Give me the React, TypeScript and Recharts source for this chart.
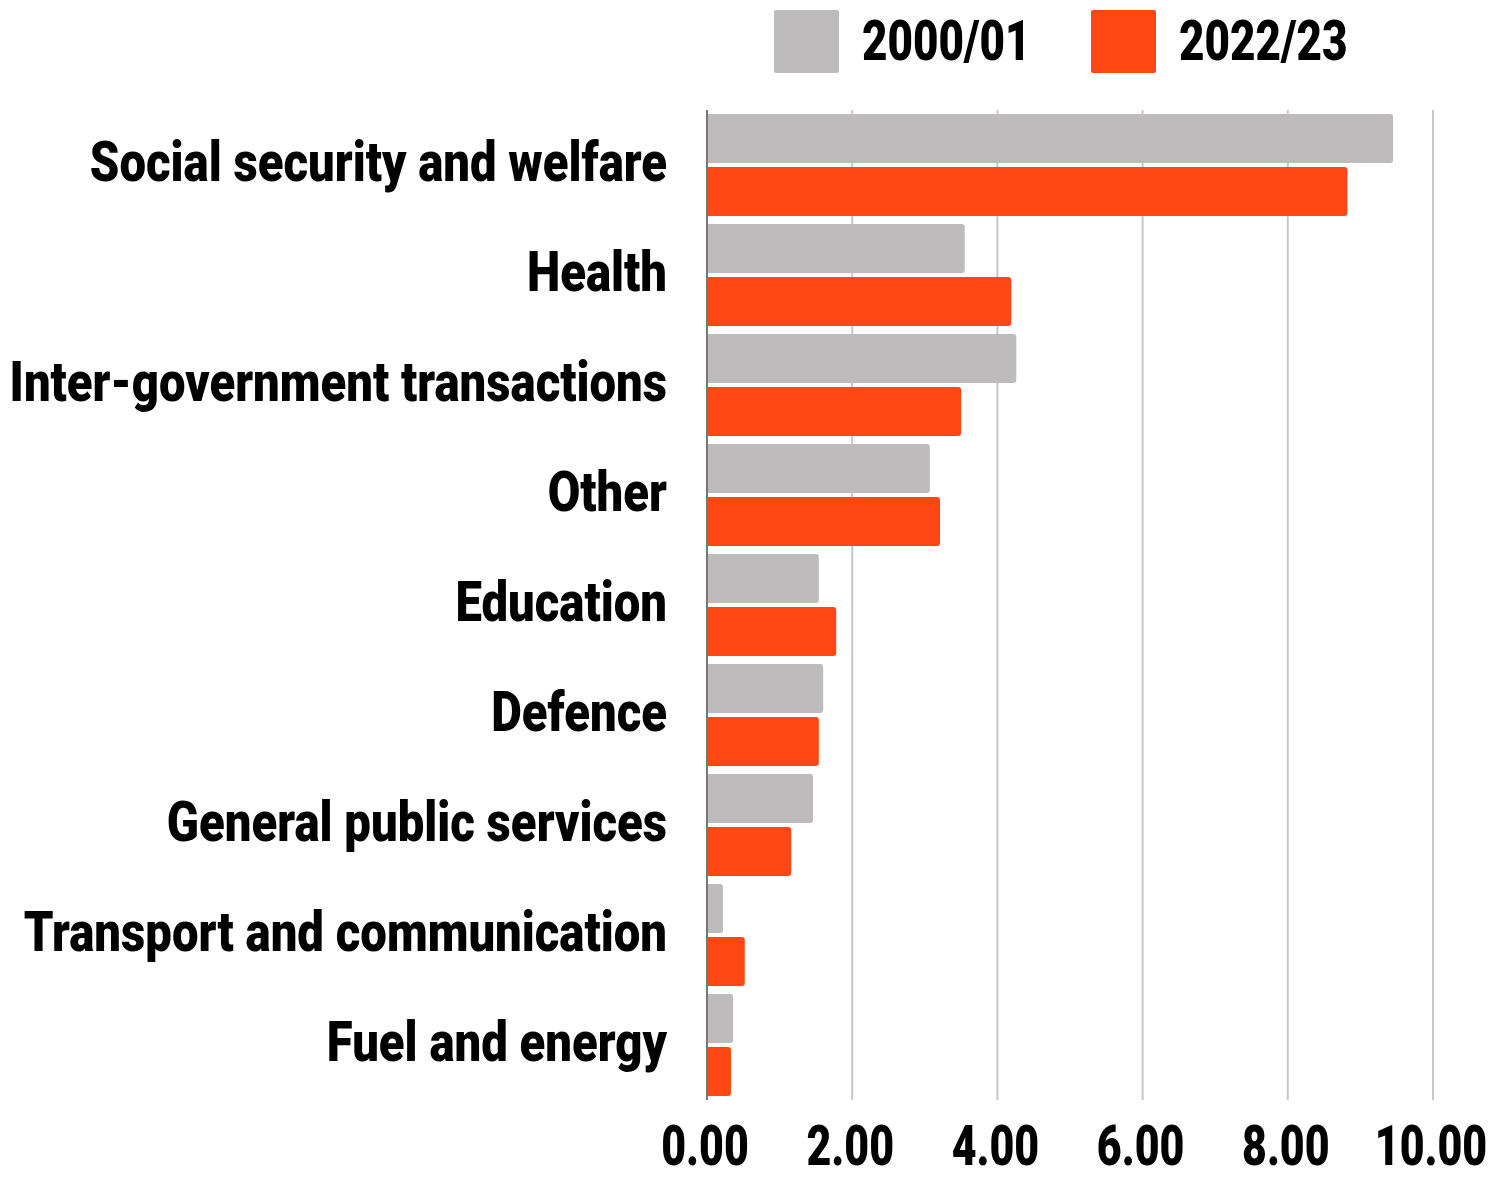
import React from 'react'
import { BarChart, Bar, XAxis, YAxis, CartesianGrid } from 'recharts'

const CATEGORIES = [
  'Social security and welfare',
  'Health',
  'Inter-government transactions',
  'Other',
  'Education',
  'Defence',
  'General public services',
  'Transport and communication',
  'Fuel and energy',
]
const VALUES_2000 = [9.45, 3.55, 4.26, 3.07, 1.54, 1.6, 1.46, 0.22, 0.36]
const VALUES_2022 = [8.82, 4.19, 3.5, 3.21, 1.78, 1.54, 1.16, 0.52, 0.33]
const X_TICKS = [0, 2, 4, 6, 8, 10]
const SERIES = [
  { key: 'y2000', label: '2000/01', color: '#bdbbbb' },
  { key: 'y2022', label: '2022/23', color: '#ff4713' },
]

const data = CATEGORIES.map((name, i) => ({ name, y2000: VALUES_2000[i], y2022: VALUES_2022[i] }))

const FONT = 'Roboto, "Liberation Sans", sans-serif'
const SQUEEZE = 0.86

const YTick = (props: any) => {
  const { x, y, payload } = props
  return (
    <g transform={`translate(${x},${y}) scale(${SQUEEZE},1)`}>
      <text x={0} y={0} dy={16} textAnchor="end" fontFamily={FONT} fontWeight={900} fontSize={55} fill="#000">
        {payload.value}
      </text>
    </g>
  )
}

const XTick = (props: any) => {
  const { x, y, payload } = props
  return (
    <g transform={`translate(${x - 2},${y}) scale(0.78,1)`}>
      <text x={0} y={0} dy={57} textAnchor="middle" fontFamily={FONT} fontWeight={900} fontSize={55} fill="#000">
        {Number(payload.value).toFixed(2)}
      </text>
    </g>
  )
}

const LegendBox = () => (
  <div style={{ position: 'absolute', left: 0, top: 0, width: 1488, height: 80 }}>
    {SERIES.map((s, i) => (
      <div key={s.key} style={{ position: 'absolute', left: 774 + i * 317, top: 10, display: 'flex', alignItems: 'center' }}>
        <div style={{ width: 65, height: 63, background: s.color, borderRadius: 2 }} />
        <span
          style={{
            marginLeft: 23,
            fontFamily: FONT,
            fontWeight: 900,
            fontSize: 55,
            color: '#000',
            display: 'inline-block',
            transform: 'scaleX(0.8)',
            transformOrigin: 'left center',
            lineHeight: '63px',
          }}
        >
          {s.label}
        </span>
      </div>
    ))}
  </div>
)

export default function App() {
  return (
    <div style={{ position: 'relative', width: 1488, height: 1178, background: '#fff' }}>
      <style>{'body{margin:0}'}</style>
      <BarChart
        width={1488}
        height={1178}
        data={data}
        layout="vertical"
        margin={{ top: 110, right: 55, left: 0, bottom: 0 }}
        barCategoryGap={4}
        barGap={4}
      >
        <CartesianGrid horizontal={false} stroke="#c8c8c8" strokeWidth={2} />
        <XAxis
          type="number"
          domain={[0, 10]}
          ticks={X_TICKS}
          axisLine={false}
          tickLine={false}
          tick={<XTick />}
          height={78}
          interval={0}
        />
        <YAxis
          type="category"
          dataKey="name"
          width={707}
          axisLine={{ stroke: '#777', strokeWidth: 2 }}
          tickLine={false}
          tick={<YTick />}
          interval={0}
          tickMargin={34}
        />
        {SERIES.map((s) => (
          <Bar key={s.key} dataKey={s.key} fill={s.color} radius={[0, 3, 3, 0]} isAnimationActive={false} />
        ))}
      </BarChart>
      <LegendBox />
    </div>
  )
}
